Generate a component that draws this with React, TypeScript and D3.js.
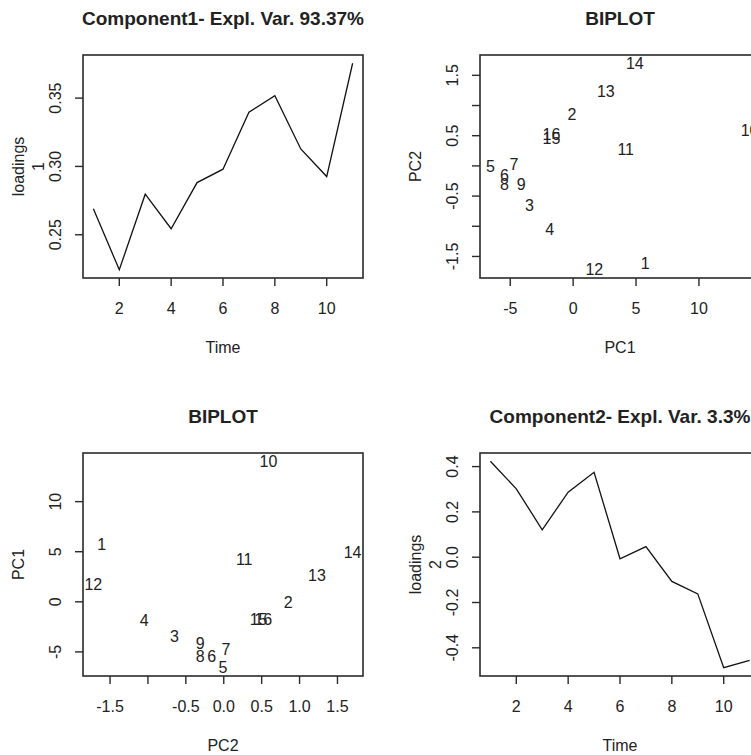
import React from "react";
import * as d3 from "d3";

const time = [1, 2, 3, 4, 5, 6, 7, 8, 9, 10, 11];
const loadings1 = [0.269, 0.2244, 0.2797, 0.2544, 0.2882, 0.298, 0.3396, 0.3517, 0.3128, 0.2926, 0.3755];
const loadings2 = [0.4235, 0.302, 0.121, 0.287, 0.375, -0.007, 0.047, -0.107, -0.162, -0.488, -0.455];
const obsLabels = ["1", "2", "3", "4", "5", "6", "7", "8", "9", "10", "11", "12", "13", "14", "15", "16"];
const pc1 = [5.72, -0.1, -3.47, -1.86, -6.58, -5.46, -4.71, -5.46, -4.13, 14.03, 4.18, 1.68, 2.6, 4.9, -1.72, -1.72];
const pc2 = [-1.61, 0.85, -0.65, -1.05, -0.01, -0.16, 0.03, -0.31, -0.31, 0.59, 0.27, -1.72, 1.23, 1.7, 0.46, 0.52];

const timeTicks = [2, 4, 6, 8, 10];
const l1Ticks = [0.25, 0.3, 0.35];
const l2Ticks = [-0.4, -0.2, 0.0, 0.2, 0.4];
const pc1Ticks = [-5, 0, 5, 10];
const pc2Ticks = [-1.5, -1.0, -0.5, 0.0, 0.5, 1.0, 1.5];

const FONT = "'Liberation Sans', Arial, sans-serif";
const AXC = "#2a2a2a";

function expand(vals: number[]): [number, number] {
  const [a, b] = d3.extent(vals) as [number, number];
  const p = (b - a) * 0.04;
  return [a - p, b + p];
}

type Box = { x0: number; x1: number; y0: number; y1: number };

function Frame({ box, title, xs, ys, xTicks, yTicks, xFmt, yFmt, xHide, yHide, xLab, yLab }: any) {
  const b: Box = box;
  const fs = 16;
  return (
    <g fontFamily={FONT} fill="#222">
      <text x={(b.x0 + b.x1) / 2} y={b.y0 - 30} textAnchor="middle" fontWeight="bold" fontSize={19}>{title}</text>
      <rect x={b.x0} y={b.y0} width={b.x1 - b.x0} height={b.y1 - b.y0} fill="none" stroke={AXC} strokeWidth={1.6} />
      {xTicks.map((t: number, i: number) => (
        <g key={"xt" + i}>
          <line x1={xs(t)} x2={xs(t)} y1={b.y1} y2={b.y1 + 8} stroke={AXC} strokeWidth={1.4} />
          {!(xHide || []).includes(t) && (
            <text x={xs(t)} y={b.y1 + 30} textAnchor="middle" dominantBaseline="central" fontSize={fs}>{xFmt(t)}</text>
          )}
        </g>
      ))}
      {yTicks.map((t: number, i: number) => (
        <g key={"yt" + i}>
          <line x1={b.x0 - 8} x2={b.x0} y1={ys(t)} y2={ys(t)} stroke={AXC} strokeWidth={1.4} />
          {!(yHide || []).includes(t) && (
            <text transform={`translate(${b.x0 - 28},${ys(t)}) rotate(-90)`} textAnchor="middle" dominantBaseline="central" fontSize={fs}>{yFmt(t)}</text>
          )}
        </g>
      ))}
      <text x={(b.x0 + b.x1) / 2} y={b.y1 + 69} textAnchor="middle" dominantBaseline="central" fontSize={fs}>{xLab}</text>
      {yLab.length === 1 ? (
        <text transform={`translate(${b.x0 - 65},${(b.y0 + b.y1) / 2}) rotate(-90)`} textAnchor="middle" dominantBaseline="central" fontSize={fs}>{yLab[0]}</text>
      ) : (
        <g>
          <text transform={`translate(${b.x0 - 65},${(b.y0 + b.y1) / 2}) rotate(-90)`} textAnchor="middle" dominantBaseline="central" fontSize={fs}>{yLab[0]}</text>
          <text transform={`translate(${b.x0 - 45},${(b.y0 + b.y1) / 2}) rotate(-90)`} textAnchor="middle" dominantBaseline="central" fontSize={fs}>{yLab[1]}</text>
        </g>
      )}
    </g>
  );
}

function LinePanel({ box, values, ticks, yFmt, title, yLab }: any) {
  const xs = d3.scaleLinear().domain(expand(time)).range([box.x0, box.x1]);
  const ys = d3.scaleLinear().domain(expand(values)).range([box.y1, box.y0]);
  const line = d3.line<number>().x((_, i) => xs(time[i])).y((v) => ys(v));
  return (
    <g>
      <path d={line(values) as string} fill="none" stroke="#111" strokeWidth={1.3} />
      <Frame box={box} title={title} xs={xs} ys={ys} xTicks={timeTicks} yTicks={ticks} xFmt={(t: number) => String(t)} yFmt={yFmt} xLab="Time" yLab={yLab} />
    </g>
  );
}

function BiPanel({ box, xv, yv, xTicks, yTicks, xHide, yHide, xFmt, yFmt, xLab, yLab }: any) {
  const xs = d3.scaleLinear().domain(expand(xv)).range([box.x0, box.x1]);
  const ys = d3.scaleLinear().domain(expand(yv)).range([box.y1, box.y0]);
  return (
    <g>
      {obsLabels.map((l, i) => (
        <text key={l} x={xs(xv[i])} y={ys(yv[i])} textAnchor="middle" dominantBaseline="central" fontFamily={FONT} fontSize={16} fill="#222">{l}</text>
      ))}
      <Frame box={box} title="BIPLOT" xs={xs} ys={ys} xTicks={xTicks} yTicks={yTicks} xHide={xHide} yHide={yHide} xFmt={xFmt} yFmt={yFmt} xLab={xLab} yLab={yLab} />
    </g>
  );
}

export default function App() {
  const P1 = { x0: 83, x1: 363, y0: 55, y1: 278 };
  const P2 = { x0: 480, x1: 760, y0: 55, y1: 278 };
  const P3 = { x0: 83, x1: 363, y0: 453, y1: 676 };
  const P4 = { x0: 480, x1: 760, y0: 453, y1: 676 };
  return (
    <svg width={751} height={755} style={{ position: "absolute", left: 0, top: 0, background: "#fff" }}>
      <rect width={751} height={755} fill="#fff" />
      <LinePanel box={P1} values={loadings1} ticks={l1Ticks} yFmt={(t: number) => t.toFixed(2)} title="Component1- Expl. Var. 93.37%" yLab={["loadings", "1"]} />
      <BiPanel box={P2} xv={pc1} yv={pc2} xTicks={pc1Ticks} yTicks={pc2Ticks} yHide={[-1.0, 0.0, 1.0]} xFmt={(t: number) => String(t)} yFmt={(t: number) => t.toFixed(1)} xLab="PC1" yLab={["PC2"]} />
      <BiPanel box={P3} xv={pc2} yv={pc1} xTicks={pc2Ticks} yTicks={pc1Ticks} xHide={[-1.0]} xFmt={(t: number) => t.toFixed(1)} yFmt={(t: number) => String(t)} xLab="PC2" yLab={["PC1"]} />
      <LinePanel box={P4} values={loadings2} ticks={l2Ticks} yFmt={(t: number) => t.toFixed(1)} title="Component2- Expl. Var. 3.3%" yLab={["loadings", "2"]} />
    </svg>
  );
}
